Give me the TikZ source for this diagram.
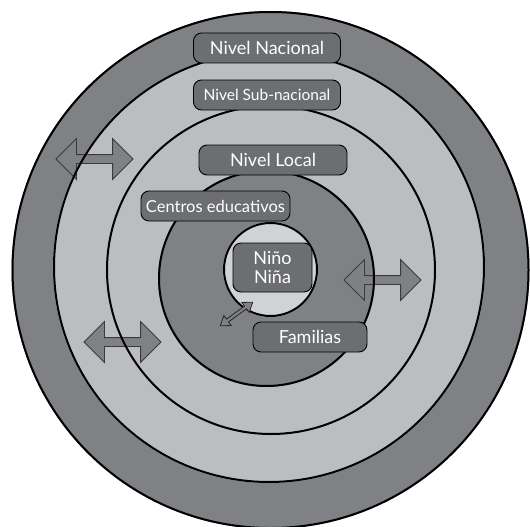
\documentclass[tikz,border=0pt]{standalone}
\usepackage{fontspec}
\setmainfont{Lato}
\usepackage{xcolor}
\usepackage{tikz}
\usetikzlibrary{shapes.arrows, positioning}

\definecolor{ringdark}{HTML}{808185}
\definecolor{ringlight}{HTML}{BCBDC0}
\definecolor{ringcore}{HTML}{D1D2D4}
\definecolor{boxfill}{HTML}{6D6E71}
\definecolor{arrowline}{HTML}{3A3A3C}

\begin{document}
\begin{tikzpicture}[
    x=1pt, y=-1pt,
    ringline/.style={line width=2pt, black},
    levelbox/.style={draw=black, line width=0.9pt, fill=boxfill, rounded corners=8pt, text=white, align=center, inner sep=0pt, minimum height=30pt, font=\fontsize{18}{21}\selectfont},
    dblarrow/.style={double arrow, draw=arrowline, line width=0.9pt, fill=ringdark, inner xsep=0pt, inner ysep=4pt, minimum height=77pt, double arrow head extend=16pt, double arrow tip angle=90},
    smallarrow/.style={double arrow, draw=black!85, line width=0.8pt, fill=ringdark, inner xsep=0pt, inner ysep=1.3pt, minimum height=40pt, double arrow head extend=4.5pt, double arrow tip angle=70}
]
\useasboundingbox (0,0) rectangle (530,527);

% Rings
\fill[ringdark] (270.5,270) circle[radius=259pt];
\fill[ringlight] (269,267) circle[radius=216pt];
\fill[ringlight] (271,270) circle[radius=165pt];
\fill[ringdark] (266.5,278.5) circle[radius=108.5pt];
\fill[ringcore] (270.5,269.5) circle[radius=47.5pt];

% Arrows
\node[dblarrow] (arrA) at (94.5,159) {};
\node[dblarrow] (arrB) at (122.5,342) {};
\node[dblarrow] (arrC) at (382.5,280) {};

% Ring borders
\draw[ringline] (270.5,270) circle[radius=258pt];
\draw[ringline] (269,267) circle[radius=215pt];
\draw[ringline] (271,270) circle[radius=164pt];
\draw[ringline] (266.5,278.5) circle[radius=107.5pt];
\draw[ringline] (270.5,269.5) circle[radius=46.5pt];

\node[smallarrow, rotate=36] (arrD) at (236.5,314) {};

% Nodes
\node[levelbox, minimum width=147pt] (nacional) at (267,48) {Nivel Nacional};
\node[levelbox, minimum width=147pt, font=\fontsize{15.5}{18}\selectfont] (subnacional) at (267,95) {Nivel Sub-nacional};
\node[levelbox, minimum width=148pt] (local) at (273,160) {Nivel Local};
\node[levelbox, minimum width=149pt, font=\fontsize{16.5}{19}\selectfont] (centros) at (215.5,206) {Centros educativos};
\node[levelbox, minimum width=79pt, minimum height=49pt, font=\fontsize{18}{19}\selectfont] (nino) at (272.5,267.5) {Niño\\Niña};
\node[levelbox, minimum width=114pt] (familias) at (310,337) {Familias};

\end{tikzpicture}
\end{document}
